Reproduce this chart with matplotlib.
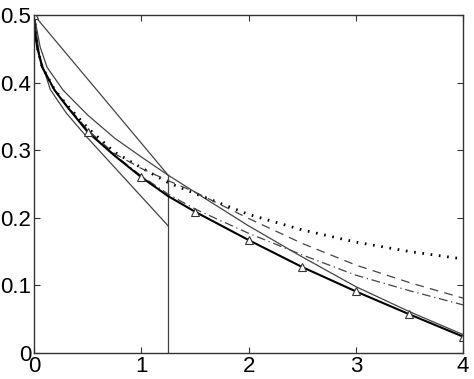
import numpy as np
import matplotlib
matplotlib.use("Agg")
import matplotlib.pyplot as plt

plt.rcParams["font.family"] = ["Liberation Sans", "DejaVu Sans"]

# values
thick_x = [0, 0.005, 0.028, 0.075, 0.19, 0.3, 0.5, 0.75, 1.0, 1.25, 1.5, 2.0, 2.5, 3.0, 3.5, 4.0]
thick_y = [0.5, 0.478, 0.453, 0.423, 0.389, 0.366, 0.327, 0.292, 0.260, 0.232, 0.209, 0.167, 0.127, 0.091, 0.057, 0.024]

upper_x = [0, 0.056, 0.12, 0.27, 0.5, 0.75, 1.0, 1.25, 1.5, 2.0, 2.5, 3.0, 3.5, 4.0]
upper_y = [0.5, 0.453, 0.423, 0.389, 0.352, 0.318, 0.290, 0.263, 0.238, 0.188, 0.142, 0.098, 0.061, 0.027]

dotted_x = [0, 0.028, 0.075, 0.19, 0.3, 0.5, 0.75, 1.0, 1.25, 1.5, 2.0, 2.5, 3.0, 3.5, 4.0]
dotted_y = [0.5, 0.453, 0.423, 0.390, 0.368, 0.333, 0.297, 0.274, 0.252, 0.236, 0.205, 0.182, 0.164, 0.150, 0.139]

dashed_x = [0, 0.028, 0.075, 0.19, 0.3, 0.5, 0.75, 1.0, 1.25, 1.5, 2.0, 2.5, 3.0, 3.5, 4.0]
dashed_y = [0.5, 0.453, 0.423, 0.390, 0.367, 0.330, 0.295, 0.273, 0.255, 0.238, 0.199, 0.162, 0.130, 0.104, 0.081]

dashdot_x = [0, 0.028, 0.075, 0.19, 0.3, 0.5, 0.75, 1.0, 1.25, 1.5, 2.0, 2.5, 3.0, 3.5, 4.0]
dashdot_y = [0.5, 0.453, 0.423, 0.389, 0.366, 0.328, 0.293, 0.262, 0.235, 0.213, 0.177, 0.145, 0.115, 0.092, 0.071]

chord_x = [0, 1.25]
chord_y = [0.5, 0.263]

lower_x = [0, 0.05, 0.15, 0.3, 0.5, 1.25]
lower_y = [0.5, 0.44, 0.39, 0.355, 0.318, 0.188]

step_x = [1.25, 1.25]
step_y = [0, 0.263]

fig = plt.figure(figsize=(4.74, 3.79), dpi=100)
ax = fig.add_axes([0.072, 0.069, 0.905, 0.891])

gray = "#444444"
ax.plot(chord_x, chord_y, color=gray, lw=0.9)
ax.plot(lower_x, lower_y, color=gray, lw=0.9)
ax.plot(step_x, step_y, color=gray, lw=0.9)
ax.plot(upper_x, upper_y, color=gray, lw=0.9)
ax.plot(dotted_x, dotted_y, color="black", lw=2.0, linestyle=(0, (0.6, 2.4)))
ax.plot(dashed_x, dashed_y, color=gray, lw=0.9, linestyle=(0, (7, 5)))
ax.plot(dashdot_x, dashdot_y, color=gray, lw=0.9, linestyle=(0, (7, 3, 1, 3)))

marks = [i for i, v in enumerate(thick_x) if abs(v * 2 - round(v * 2)) < 1e-9]
ax.plot(thick_x, thick_y, color="black", lw=1.5, marker="^", markersize=6,
        markerfacecolor="white", markeredgecolor="#333333", markeredgewidth=0.8,
        markevery=marks)

ax.set_xlim(0, 4)
ax.set_ylim(0, 0.5)
ax.set_xticks([0, 1, 2, 3, 4])
ax.set_xticklabels(["0", "1", "2", "3", "4"])
ax.set_yticks([0, 0.1, 0.2, 0.3, 0.4, 0.5])
ax.set_yticklabels(["0", "0.1", "0.2", "0.3", "0.4", "0.5"])
ax.tick_params(direction="in", top=True, right=True, length=4, width=0.8,
               labelsize=16, pad=2, color="#333333")
for s in ax.spines.values():
    s.set_linewidth(1.0)
    s.set_color("#333333")

fig.savefig("out.png", dpi=100)
